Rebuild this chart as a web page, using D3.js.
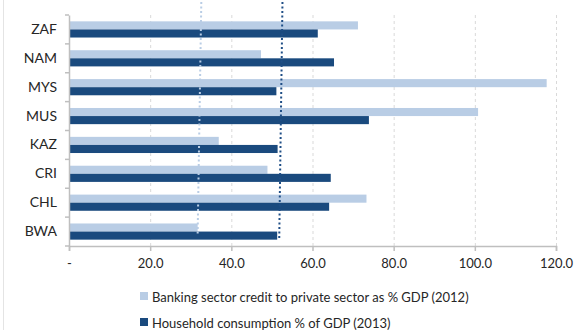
<!DOCTYPE html>
<html><head><meta charset="utf-8">
<script src="https://cdn.jsdelivr.net/npm/d3@7"></script>
<style>body{margin:0;background:#fff}svg{display:block}text{font-family:Lato,"Open Sans",sans-serif;fill:#262626}</style>
</head><body><svg id="c" width="574" height="330"></svg>
<script>
const categories = ["ZAF","NAM","MYS","MUS","KAZ","CRI","CHL","BWA"];
const credit = [71.2,47.3,117.7,100.8,36.9,48.9,73.3,31.7];
const consumption = [61.3,65.3,51.1,73.9,51.4,64.5,64.1,51.3];
const seriesNames = ["Banking sector credit to private sector as % GDP (2012)","Household consumption % of GDP (2013)"];
const xTicks = [0,20,40,60,80,100,120];
const creditRef = [32.6,31.7];
const consRef = [52.6,51.8];
const colors = ["#b9cde5","#1a4a7e"];

const svg = d3.select("#c");
const x = d3.scaleLinear().domain([0,120]).range([69,556]);
const y = d3.scaleBand().domain(categories).range([15,246]).paddingInner(0.44).paddingOuter(0.22);

svg.append("line").attr("x1",3.5).attr("x2",3.5).attr("y1",0).attr("y2",330).attr("stroke","#e4e4e4");

// gridlines
svg.append("g").selectAll("line").data(xTicks.filter(d=>d>0)).join("line")
  .attr("x1",d=>x(d)+0.5).attr("x2",d=>x(d)+0.5).attr("y1",15).attr("y2",246)
  .attr("stroke","#d9d9d9").attr("stroke-dasharray","3,3");

const bh = y.bandwidth()/2;
svg.append("g").selectAll("rect").data(categories).join("rect")
  .attr("x",x(0)).attr("y",d=>y(d)).attr("width",(d,i)=>x(credit[i])-x(0)).attr("height",bh)
  .attr("fill",colors[0]);
svg.append("g").selectAll("rect").data(categories).join("rect")
  .attr("x",x(0)).attr("y",d=>y(d)+bh).attr("width",(d,i)=>x(consumption[i])-x(0)).attr("height",bh)
  .attr("fill",colors[1]);

// axes
const xa = svg.append("g").attr("transform","translate(0,246)")
  .call(d3.axisBottom(x).tickValues(xTicks).tickSize(5).tickPadding(8).tickFormat(d=>d===0?"-":d3.format(".1f")(d)));
xa.select(".domain").attr("stroke","#bfbfbf").attr("stroke-width",1.5);
xa.selectAll(".tick line").attr("stroke","#bfbfbf").attr("stroke-width",1.5);
xa.selectAll("text").attr("font-size",13).attr("fill","#262626");

const ya = svg.append("g").attr("transform","translate(69,0)")
  .call(d3.axisLeft(y).tickSize(0).tickPadding(12));
ya.select(".domain").attr("stroke","#bfbfbf").attr("stroke-width",1.5);
ya.selectAll("text").attr("font-size",14).attr("fill","#262626");
const step = y.step();
svg.append("g").selectAll("line").data(d3.range(categories.length+1)).join("line")
  .attr("x1",65).attr("x2",69).attr("y1",i=>15+i*step*( (246-15)/(step*categories.length))).attr("y2",i=>15+i*((246-15)/categories.length))
  .attr("stroke","#bfbfbf").attr("stroke-width",1.5);

// reference dotted lines
svg.append("line").attr("x1",x(creditRef[0])).attr("x2",x(creditRef[1])).attr("y1",2).attr("y2",234)
  .attr("stroke",colors[0]).attr("stroke-width",2).attr("stroke-dasharray","2,2.5");
svg.append("line").attr("x1",x(consRef[0])).attr("x2",x(consRef[1])).attr("y1",2).attr("y2",240)
  .attr("stroke","#1f4e86").attr("stroke-width",2).attr("stroke-dasharray","2,2.5");

// legend
const lg = svg.append("g").selectAll("g").data(seriesNames).join("g")
  .attr("transform",(d,i)=>`translate(140,${297+i*26})`);
lg.append("rect").attr("x",0).attr("y",-5).attr("width",8).attr("height",8).attr("fill",(d,i)=>colors[i]);
lg.append("text").attr("x",12).attr("y",0).attr("dy","0.35em").attr("font-size",13).text(d=>d);
</script></body></html>
